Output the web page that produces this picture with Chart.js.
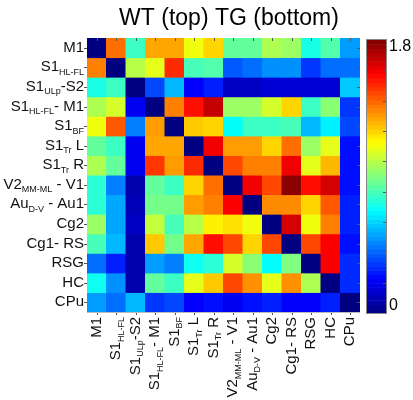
<!DOCTYPE html>
<html>
<head>
<meta charset="utf-8">
<script src="https://cdn.jsdelivr.net/npm/chart.js@4.4.1/dist/chart.umd.min.js"></script>
<style>
  html, body { margin: 0; padding: 0; background: #fff; }
  #wrap { width: 413px; height: 400px; }
</style>
</head>
<body>
<div id="wrap"><canvas id="myChart" width="413" height="400"></canvas></div>
<script>
// region labels: main text, subscript, text after the subscript
const labelMain = ["M1", "S1", "S1", "S1", "S1", "S1", "S1", "V2", "Au", "Cg2", "Cg1- RS", "RSG", "HC", "CPu"];
const labelSub = ["", "HL-FL", "ULp", "HL-FL", "BF", "Tr", "Tr", "MM-ML", "D-V", "", "", "", "", ""];
const labelTail = ["", "", "-S2", "- M1", "", " L", " R", " - V1", " - Au1", "", "", "", "", ""];

const titleText = "WT (top) TG (bottom)";
const colorMin = 0;
const colorMax = 1.8;

// one row per region (upper triangle WT, lower triangle TG)
const cellValues = [
  [0, 1.38, 0.78, 1.28, 1.28, 1.1, 1.2, 0.85, 0.85, 0.98, 0.95, 0.72, 0.82, 0.5],
  [1.35, 0, 1.0, 1.08, 1.5, 0.8, 0.82, 0.38, 0.42, 0.48, 0.48, 0.32, 0.42, 0.42],
  [0.72, 0.78, 0, 0.35, 0.55, 0.22, 0.28, 0.12, 0.12, 0.15, 0.15, 0.15, 0.15, 0.58],
  [0.98, 1.05, 0.2, 0, 1.35, 1.55, 1.68, 0.95, 0.95, 1.05, 1.2, 0.78, 0.92, 0.32],
  [1.1, 1.42, 0.45, 1.3, 0, 1.22, 1.2, 0.68, 0.78, 0.78, 0.8, 0.55, 0.65, 0.35],
  [0.85, 0.78, 0.2, 1.28, 1.28, 0, 1.6, 1.3, 1.3, 1.2, 1.38, 0.95, 1.08, 0.25],
  [0.98, 0.85, 0.2, 1.48, 1.3, 1.5, 0, 1.45, 1.35, 1.35, 1.6, 1.08, 1.25, 0.25],
  [0.75, 0.45, 0.08, 0.85, 0.78, 1.2, 1.38, 0, 1.6, 1.45, 1.78, 1.55, 1.65, 0.25],
  [0.75, 0.52, 0.1, 0.88, 0.88, 1.3, 1.35, 1.58, 0, 1.33, 1.33, 1.2, 1.42, 0.28],
  [0.95, 0.52, 0.12, 1.02, 0.8, 1.0, 1.15, 1.18, 1.1, 0, 1.65, 1.1, 1.35, 0.28],
  [0.8, 0.55, 0.08, 1.22, 0.88, 1.28, 1.55, 1.45, 1.2, 1.45, 0, 1.45, 1.58, 0.25],
  [0.42, 0.28, 0.08, 0.5, 0.45, 0.7, 0.75, 1.05, 0.92, 0.68, 0.9, 0, 1.58, 0.3],
  [0.7, 0.48, 0.08, 0.85, 0.78, 1.08, 1.22, 1.45, 1.32, 1.08, 1.32, 0.98, 0, 0.3],
  [0.5, 0.42, 0.55, 0.32, 0.35, 0.22, 0.25, 0.2, 0.25, 0.28, 0.22, 0.22, 0.28, 0]
];

const clamp = (v) => Math.max(0, Math.min(1, v));

// matlab style jet colormap
const jet = (value) => {
  const t = clamp((value - colorMin) / (colorMax - colorMin));
  const r = clamp(1.5 - Math.abs(4 * t - 3));
  const g = clamp(1.5 - Math.abs(4 * t - 2));
  const b = clamp(1.5 - Math.abs(4 * t - 1));
  return `rgb(${Math.round(r * 255)}, ${Math.round(g * 255)}, ${Math.round(b * 255)})`;
};

const FONT = "'Liberation Sans', Arial, sans-serif";
const mainFont = "15px " + FONT;
const subFont = "9px " + FONT;

// draws main + subscript + tail so that the text ends at endX
const drawParts = (ctx, i, endX, midY) => {
  const parts = [
    [labelMain[i], mainFont, 0],
    [labelSub[i], subFont, 5],
    [labelTail[i], mainFont, 0],
  ];
  let total = 0;
  parts.forEach((p) => {
    ctx.font = p[1];
    total += ctx.measureText(p[0]).width;
  });
  let x = endX - total;
  parts.forEach((p) => {
    ctx.font = p[1];
    ctx.fillText(p[0], x, midY + p[2]);
    x += ctx.measureText(p[0]).width;
  });
};

const decorations = {
  id: "decorations",
  afterDraw(chart) {
    const ctx = chart.ctx;
    const area = chart.chartArea;
    const xs = chart.scales.x;
    const ys = chart.scales.y;
    ctx.save();

    // title
    ctx.fillStyle = "#000";
    ctx.font = "23px " + FONT;
    ctx.textAlign = "center";
    ctx.textBaseline = "alphabetic";
    ctx.fillText(titleText, 229, 25);

    // tick marks around the matrix
    ctx.strokeStyle = "#555";
    ctx.lineWidth = 1;
    ctx.beginPath();
    labelMain.forEach((_, i) => {
      const px = Math.round(xs.getPixelForValue(i)) + 0.5;
      ctx.moveTo(px, area.top);
      ctx.lineTo(px, area.top + 3);
      ctx.moveTo(px, area.bottom);
      ctx.lineTo(px, area.bottom + 3);
      const py = Math.round(ys.getPixelForValue(i + 0.5)) + 0.5;
      ctx.moveTo(area.right, py);
      ctx.lineTo(area.right - 3, py);
      ctx.moveTo(area.left, py);
      ctx.lineTo(area.left - 3, py);
    });
    ctx.stroke();
    ctx.strokeStyle = "#bbb";
    ctx.beginPath();
    ctx.moveTo(area.left, area.bottom + 0.5);
    ctx.lineTo(area.right, area.bottom + 0.5);
    ctx.stroke();

    // y labels
    ctx.fillStyle = "#111";
    ctx.textAlign = "left";
    ctx.textBaseline = "middle";
    labelMain.forEach((_, i) => {
      drawParts(ctx, i, area.left - 3, ys.getPixelForValue(i + 0.5));
    });

    // x labels, rotated
    labelMain.forEach((_, i) => {
      ctx.save();
      ctx.translate(xs.getPixelForValue(i), area.bottom + 5);
      ctx.rotate(-Math.PI / 2);
      drawParts(ctx, i, 0, 0);
      ctx.restore();
    });

    // colorbar
    const cbLeft = 367, cbRight = 386, cbTop = 40, cbBottom = 313;
    const steps = 64;
    const h = (cbBottom - cbTop) / steps;
    for (let s = 0; s < steps; s++) {
      const v = colorMin + ((s + 0.5) / steps) * (colorMax - colorMin);
      ctx.fillStyle = jet(v);
      ctx.fillRect(cbLeft, cbBottom - (s + 1) * h, cbRight - cbLeft, h + 0.5);
    }
    ctx.strokeStyle = "#888";
    ctx.strokeRect(cbLeft - 0.5, cbTop - 0.5, cbRight - cbLeft + 1, cbBottom - cbTop + 1);
    ctx.strokeStyle = "#555";
    ctx.beginPath();
    for (let k = 1; k < 9; k++) {
      const py = Math.round(cbBottom - (k / 9) * (cbBottom - cbTop)) + 0.5;
      ctx.moveTo(cbRight, py);
      ctx.lineTo(cbRight - 3, py);
    }
    ctx.stroke();
    ctx.fillStyle = "#000";
    ctx.font = "16px " + FONT;
    ctx.textAlign = "left";
    ctx.textBaseline = "middle";
    ctx.fillText(String(colorMax), 389, 47);
    ctx.fillText(String(colorMin), 389, 306);

    ctx.restore();
  },
};

// each row of the matrix is one dataset of floating bars [row, row + 1]
const datasets = cellValues.map((row, r) => ({
  data: row.map(() => [r, r + 1]),
  backgroundColor: row.map((v) => jet(v)),
  borderWidth: 0,
  inflateAmount: 0.5,
  barPercentage: 1,
  categoryPercentage: 1,
}));

const ctx = document.getElementById("myChart");

const chart = new Chart(ctx, {
  type: "bar",
  data: {
    labels: labelMain.map((m, i) => m + labelSub[i] + labelTail[i]),
    datasets: datasets,
  },
  options: {
    responsive: false,
    devicePixelRatio: 1,
    animation: false,
    events: [],
    layout: { padding: { left: 87, top: 38, right: 53, bottom: 88 } },
    plugins: {
      legend: { display: false },
      tooltip: { enabled: false },
    },
    scales: {
      x: { type: "category", stacked: true, display: false, offset: true },
      y: { type: "linear", min: 0, max: labelMain.length, reverse: true, display: false },
    },
  },
  plugins: [decorations],
});
</script>
</body>
</html>
